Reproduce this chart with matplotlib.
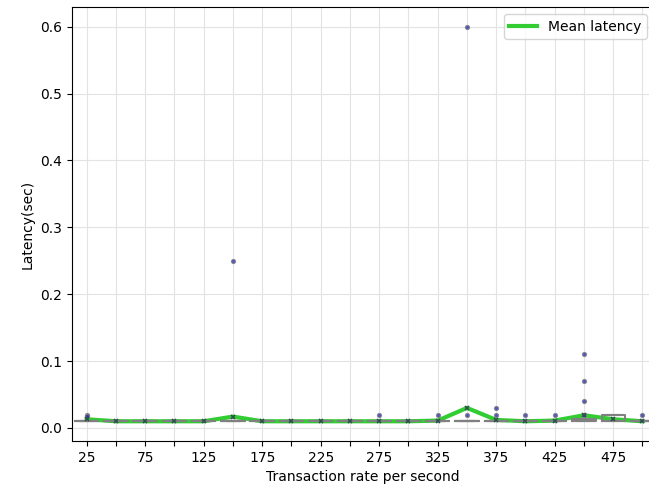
import matplotlib
matplotlib.use("Agg")
import matplotlib.pyplot as plt

# transaction rates (categories)
rates = [25, 50, 75, 100, 125, 150, 175, 200, 225, 250,
         275, 300, 325, 350, 375, 400, 425, 450, 475, 500]

# box stats (sec)
medians = [0.01] * 20
q1 = [0.01] * 20
q3 = [0.01, 0.01, 0.01, 0.01, 0.01, 0.01, 0.01, 0.01, 0.01, 0.01,
      0.01, 0.01, 0.01, 0.01, 0.01, 0.01, 0.01, 0.013, 0.02, 0.01]
means = [0.013, 0.01, 0.01, 0.01, 0.01, 0.017, 0.01, 0.01, 0.01, 0.01,
         0.01, 0.01, 0.011, 0.03, 0.012, 0.01, 0.011, 0.019, 0.013, 0.01]
outliers = [[0.02, 0.018], [], [], [], [], [0.25], [], [], [], [],
            [0.02], [], [0.02], [0.02, 0.6], [0.02, 0.03], [0.02], [0.02],
            [0.02, 0.04, 0.07, 0.11], [], [0.02]]

stats = []
for i in range(len(rates)):
    stats.append({"med": medians[i], "q1": q1[i], "q3": q3[i],
                  "whislo": q1[i], "whishi": q3[i],
                  "fliers": outliers[i], "mean": means[i]})

fig = plt.figure(figsize=(6.49, 4.94), dpi=100)
ax = fig.add_axes([0.111, 0.1073, 0.897, 0.8785])

pos = list(range(len(rates)))
ax.plot(pos, means, color="limegreen", lw=3, label="Mean latency", zorder=2)

ax.bxp(stats, positions=pos, widths=0.8, showmeans=True, patch_artist=False,
       boxprops=dict(color="gray", lw=1.5),
       medianprops=dict(color="gray", lw=1.5),
       whiskerprops=dict(color="gray", lw=1.5),
       capprops=dict(color="gray", lw=1.5),
       flierprops=dict(marker="o", markersize=3, markerfacecolor="#3030b0",
                       markeredgecolor="gray", markeredgewidth=0.8, alpha=0.8),
       meanprops=dict(marker="x", markersize=3.5, markeredgecolor="#2f4f4f",
                      markeredgewidth=1.2),
       zorder=3)

ax.set_xticks(pos)
ax.set_xticklabels([str(r) if i % 2 == 0 else "" for i, r in enumerate(rates)])
ax.set_xlim(-0.5, 19.4)
ax.set_ylim(-0.0195, 0.6295)
ax.set_yticks([0.0, 0.1, 0.2, 0.3, 0.4, 0.5, 0.6])
ax.grid(True, color="#e3e3e3", lw=0.8)
ax.set_axisbelow(True)
ax.set_xlabel("Transaction rate per second")
ax.set_ylabel("Latency(sec)")
ax.legend(loc="upper right")

fig.savefig("out.png", dpi=100)
